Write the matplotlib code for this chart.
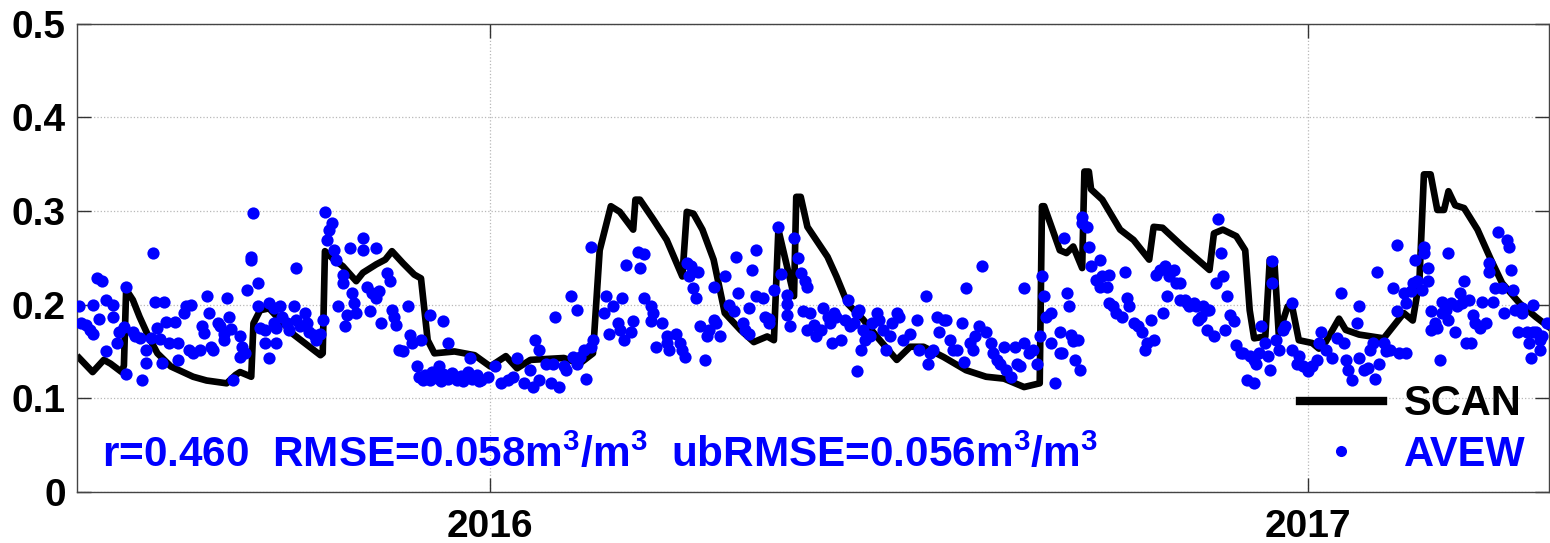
# coding=utf-8
import pandas as pd
import matplotlib
matplotlib.use('Agg')
import matplotlib.pyplot as plt
from matplotlib.lines import Line2D

plt.rcParams['font.family'] = ['Liberation Sans', 'DejaVu Sans']
plt.rcParams['font.weight'] = 'bold'
plt.rcParams['mathtext.fontset'] = 'custom'
plt.rcParams['mathtext.rm'] = 'Liberation Sans:bold'
plt.rcParams['mathtext.bf'] = 'Liberation Sans:bold'
plt.rcParams['mathtext.it'] = 'Liberation Sans:bold'

start = pd.Timestamp('2015-07-01')

# SCAN station soil moisture (days since 2015-07-01, m3/m3)
scan_day = [0, 6, 11, 14, 19, 20, 21, 24, 27, 31, 35, 41, 51, 57, 66, 70, 72, 77, 78, 81,
            85, 96, 108, 109, 110, 114, 118, 124, 127, 133, 137, 140, 145, 150, 153, 156, 159,
            168, 177, 184, 191, 196, 202, 217, 224, 230, 233, 238, 242, 248, 249, 251, 257,
            263, 270, 272, 275, 279, 284, 289, 296, 302, 308, 311, 313, 320, 321, 323, 326,
            335, 339, 344, 351, 357, 366, 372, 378, 387, 397, 406, 414, 423, 430, 431, 432,
            439, 442, 445, 449, 450, 452, 453, 458, 466, 472, 479, 481, 485, 494, 506, 508,
            512, 518, 522, 524, 526, 531, 533, 535, 537, 541, 543, 546, 552, 555, 558, 564,
            567, 573, 584, 588, 593, 597, 600, 602, 605, 608, 611, 613, 616, 620, 626, 632,
            637, 645, 652, 658]
scan_val = [0.143, 0.128, 0.141, 0.137, 0.128, 0.135, 0.216, 0.205, 0.187, 0.166, 0.148,
            0.134, 0.123, 0.119, 0.116, 0.125, 0.128, 0.123, 0.180, 0.194, 0.196, 0.168,
            0.146, 0.148, 0.257, 0.248, 0.241, 0.225, 0.234, 0.243, 0.248, 0.257, 0.244,
            0.232, 0.228, 0.162, 0.148, 0.150, 0.146, 0.134, 0.145, 0.132, 0.141, 0.143,
            0.137, 0.148, 0.258, 0.305, 0.299, 0.280, 0.312, 0.312, 0.291, 0.269, 0.230,
            0.299, 0.297, 0.280, 0.248, 0.191, 0.173, 0.160, 0.166, 0.162, 0.280, 0.209,
            0.315, 0.315, 0.283, 0.251, 0.230, 0.201, 0.184, 0.166, 0.141, 0.155, 0.155,
            0.144, 0.130, 0.123, 0.121, 0.112, 0.116, 0.305, 0.305, 0.258, 0.255, 0.262,
            0.239, 0.342, 0.342, 0.323, 0.312, 0.280, 0.269, 0.248, 0.283, 0.282, 0.262,
            0.237, 0.276, 0.280, 0.273, 0.258, 0.194, 0.164, 0.166, 0.248, 0.248, 0.169,
            0.198, 0.198, 0.162, 0.159, 0.153, 0.160, 0.185, 0.173, 0.168, 0.164, 0.176,
            0.191, 0.183, 0.226, 0.339, 0.339, 0.301, 0.301, 0.321, 0.306, 0.303, 0.280,
            0.248, 0.223, 0.201, 0.187, 0.176]

# AVEW retrievals (days since 2015-07-01, m3/m3)
avew_day = [0, 1, 3, 5, 6, 6, 8, 10, 9, 12, 15, 15, 12, 17, 18, 20, 21, 21, 24, 25, 27, 28,
            30, 30, 32, 33, 34, 38, 35, 36, 37, 39, 43, 40, 44, 44, 47, 48, 50, 49, 51, 54,
            57, 55, 56, 58, 59, 60, 62, 63, 65, 65, 66, 67, 68, 69, 72, 73, 72, 74, 75, 77,
            77, 78, 80, 80, 81, 83, 83, 85, 85, 87, 90, 87, 88, 88, 91, 93, 94, 96, 97,
            97, 99, 101, 102, 103, 105, 106, 108, 109,
            110, 113, 112, 111, 114, 115, 118, 118, 116, 119, 120, 121, 122, 123, 124, 127,
            127, 129, 131, 133, 134, 133, 130, 135, 138, 139, 140, 141, 142, 143, 145, 147,
            148, 149, 153, 151, 152, 154, 157, 163, 161, 165, 175,
            155, 157, 158, 160, 162, 163, 165, 167, 169, 171, 172, 174, 176, 178, 179,
            180, 183, 186, 189, 192, 194, 196, 199, 202, 203, 206, 209, 211, 212, 215, 217,
            218, 221, 223, 224, 226, 227, 229, 230, 204, 206, 213, 220, 223, 229,
            236, 235, 237, 239, 241, 242, 243, 245, 250, 253, 251, 244, 247, 248, 253, 256,
            257, 256, 258, 261, 263, 264, 267, 269, 270, 271, 263,
            272, 274, 277, 273, 275, 276, 278, 281, 282, 284, 285, 287, 280,
            284, 289, 291, 293, 294, 295, 297, 298, 300, 300, 301, 303, 303, 306, 307, 309,
            309, 311, 313, 314, 317, 317, 318, 317, 320, 322, 323, 325, 326,
            324, 327, 326, 329, 330, 332, 333, 335, 336, 338, 339, 341, 343, 344, 345, 347,
            348, 349, 350, 351, 352, 354, 355, 357, 358, 360, 361, 363, 364, 366, 337, 348,
            367, 369, 372, 375, 376, 379, 380, 381, 382, 384, 385, 387, 388, 390, 391, 393,
            395, 396, 397, 399, 400, 401, 403, 404, 406, 408, 409, 411, 412, 414, 415, 417,
            419, 420, 421, 423, 423, 425, 427, 429, 430, 431, 432, 433, 435, 435, 437, 439,
            439, 441, 440, 442, 443, 444, 445, 446, 447, 448, 449, 449, 451, 452, 453, 455,
            457, 457, 458, 460, 461, 461, 463, 464, 467, 468, 469, 470, 472, 474, 476, 477,
            478, 480, 481, 482, 484, 485, 486, 487, 488, 490, 491, 493, 493, 495, 496, 497,
            499, 500, 501, 502, 503, 505, 505, 506, 508, 509, 510, 511, 512, 513, 514, 515,
            517, 518, 520, 521, 523, 526, 524, 526, 527, 528, 529, 531, 532, 533, 534, 534,
            536, 537, 539, 540, 543, 543, 545, 546, 548, 550, 552, 554, 555, 556, 558, 561,
            563, 565, 566, 567, 568,
            570, 572, 573, 573, 575, 577, 578, 579, 580, 581, 582, 584, 585, 587, 588, 590,
            590, 591, 593, 594, 594, 596, 597, 598, 599, 601, 602, 602, 604, 604, 605, 605,
            607, 608, 609, 610, 610, 612, 613, 613, 614, 616, 617, 618, 619, 620, 622, 621,
            623, 624, 625, 627, 628, 630, 631, 631, 633, 634, 635, 637, 638, 639, 640, 641,
            642, 643, 644, 646, 646, 648, 649, 650, 651, 651, 652, 654, 654, 655, 657]
avew_val = [0.198, 0.180, 0.178, 0.173, 0.169, 0.200, 0.228, 0.225, 0.185, 0.205, 0.200,
            0.187, 0.150, 0.159, 0.171, 0.176, 0.219, 0.126, 0.171, 0.167, 0.164, 0.119,
            0.152, 0.138, 0.164, 0.255, 0.203, 0.203, 0.175, 0.163, 0.138, 0.181, 0.181,
            0.159, 0.159, 0.141, 0.191, 0.198, 0.200, 0.152, 0.148, 0.152, 0.209, 0.177,
            0.170, 0.191, 0.155, 0.152, 0.180, 0.177, 0.169, 0.162, 0.207, 0.187, 0.174,
            0.119, 0.166, 0.155, 0.144, 0.148, 0.216, 0.251, 0.248, 0.298, 0.223, 0.198,
            0.175, 0.173, 0.159, 0.143, 0.202, 0.196, 0.198, 0.180, 0.175, 0.159, 0.187,
            0.180, 0.173, 0.198, 0.239,
            0.184, 0.177, 0.191, 0.180, 0.171, 0.168, 0.162, 0.169, 0.184,
            0.299, 0.287, 0.280, 0.269, 0.258, 0.248, 0.232, 0.223, 0.198, 0.177, 0.189,
            0.260, 0.212, 0.202, 0.191, 0.271, 0.258, 0.219, 0.212, 0.207, 0.214, 0.260,
            0.193, 0.180, 0.234, 0.225, 0.194, 0.187, 0.178, 0.152, 0.150, 0.198, 0.168,
            0.159, 0.162, 0.134, 0.123, 0.119, 0.189, 0.182, 0.134, 0.159, 0.143,
            0.125, 0.120, 0.128, 0.122, 0.118, 0.126, 0.121, 0.127, 0.119, 0.124, 0.118,
            0.128, 0.121, 0.125, 0.118,
            0.119, 0.123, 0.134, 0.116, 0.119, 0.123, 0.143, 0.116, 0.130, 0.112, 0.119,
            0.137, 0.116, 0.137, 0.112, 0.134, 0.130, 0.144, 0.137, 0.144, 0.152, 0.121,
            0.155, 0.162, 0.162, 0.152, 0.187, 0.209, 0.194, 0.262,
            0.209, 0.191, 0.169, 0.198, 0.180, 0.173, 0.207, 0.242, 0.256, 0.254, 0.239,
            0.162, 0.171, 0.182, 0.207, 0.198, 0.191, 0.182, 0.155, 0.180, 0.166, 0.152,
            0.169, 0.159, 0.152, 0.144, 0.159,
            0.244, 0.241, 0.235, 0.230, 0.218, 0.207, 0.177, 0.166, 0.173, 0.184, 0.180,
            0.166, 0.141,
            0.219, 0.230, 0.200, 0.193, 0.251, 0.212, 0.180, 0.173, 0.169, 0.196, 0.237,
            0.258, 0.209, 0.207, 0.187, 0.180, 0.185, 0.216, 0.283, 0.233, 0.210, 0.189,
            0.177, 0.201, 0.271, 0.250, 0.234, 0.225, 0.219,
            0.193, 0.191, 0.173, 0.178, 0.166, 0.173, 0.196, 0.187, 0.180, 0.191, 0.187,
            0.162, 0.184, 0.205, 0.177, 0.180, 0.191, 0.194, 0.152, 0.173, 0.162, 0.166,
            0.180, 0.191, 0.184, 0.173, 0.152, 0.166, 0.180, 0.191, 0.159, 0.129,
            0.187, 0.162, 0.169, 0.184, 0.152, 0.209, 0.137, 0.148, 0.152, 0.187, 0.171,
            0.184, 0.184, 0.162, 0.152, 0.152, 0.180, 0.139, 0.218, 0.159, 0.152, 0.166,
            0.177, 0.241, 0.171, 0.159, 0.148, 0.141, 0.137, 0.155, 0.130, 0.123, 0.155,
            0.137, 0.134, 0.218, 0.159, 0.148, 0.152, 0.137, 0.166, 0.230, 0.209, 0.187,
            0.191, 0.159, 0.116, 0.171, 0.148, 0.271, 0.148, 0.212, 0.198, 0.168, 0.161,
            0.141, 0.162, 0.130, 0.294, 0.287, 0.283, 0.262, 0.241, 0.226, 0.248, 0.219,
            0.230, 0.219, 0.232, 0.202, 0.198, 0.191, 0.187, 0.235, 0.207, 0.198, 0.180,
            0.177, 0.171, 0.152, 0.159, 0.184, 0.162, 0.232, 0.237, 0.191, 0.241, 0.209,
            0.230, 0.237, 0.223, 0.223, 0.205, 0.205, 0.202, 0.198, 0.202, 0.198, 0.184,
            0.187, 0.198, 0.194, 0.173, 0.194, 0.166, 0.223, 0.291, 0.255, 0.230, 0.173,
            0.209, 0.189, 0.182, 0.157, 0.148, 0.148, 0.120, 0.116, 0.145, 0.141, 0.137,
            0.148, 0.177, 0.159, 0.145, 0.130, 0.246, 0.223, 0.162, 0.152, 0.173, 0.177,
            0.202, 0.152, 0.137, 0.145, 0.134, 0.129, 0.134, 0.141, 0.159, 0.171, 0.152,
            0.143, 0.164, 0.212, 0.159, 0.141, 0.130,
            0.120, 0.180, 0.198, 0.143, 0.130, 0.132, 0.152, 0.159, 0.121, 0.235, 0.137,
            0.159, 0.150, 0.152, 0.218, 0.193, 0.264, 0.148, 0.212, 0.148, 0.202, 0.214,
            0.223, 0.248, 0.225, 0.216, 0.262, 0.255, 0.239, 0.225, 0.193, 0.173, 0.180,
            0.175, 0.141, 0.203, 0.191, 0.194, 0.255, 0.184, 0.202, 0.171, 0.198, 0.212,
            0.202, 0.225, 0.205, 0.159, 0.159, 0.189, 0.180, 0.175, 0.203, 0.180, 0.235,
            0.244, 0.203, 0.218, 0.278, 0.218, 0.191, 0.269, 0.262, 0.237, 0.216, 0.194,
            0.171, 0.196, 0.191, 0.171, 0.159, 0.143, 0.171, 0.200, 0.171, 0.152, 0.162,
            0.166, 0.180]

year_ticks = ['2016-01-01', '2017-01-01']
year_labels = ['2016', '2017']
y_ticks = [0, 0.1, 0.2, 0.3, 0.4, 0.5]
stats_text = r'r=0.460  RMSE=0.058m$^{3}$/m$^{3}$  ubRMSE=0.056m$^{3}$/m$^{3}$'

scan_dates = start + pd.to_timedelta(scan_day, unit='D')
avew_dates = start + pd.to_timedelta(avew_day, unit='D')

fig = plt.figure(figsize=(15.5, 5.43), dpi=100)
ax = fig.add_axes([77 / 1550, 51 / 543, 1472 / 1550, 468.5 / 543])

ax.plot(scan_dates, scan_val, color='black', linewidth=4.8, zorder=2)
ax.plot(avew_dates, avew_val, 'o', color='blue', markersize=8.8, markeredgewidth=0, zorder=3)

ax.set_xlim(pd.Timestamp('2015-06-30'), pd.Timestamp('2017-04-19'))
ax.set_ylim(0, 0.5)
ax.set_xticks(pd.to_datetime(year_ticks))
ax.set_xticklabels(year_labels)
ax.set_yticks(y_ticks)
ax.set_yticklabels(['%g' % t for t in y_ticks])

ax.grid(True, linestyle=':', color='#b8b8b8', linewidth=0.9)
ax.tick_params(direction='in', length=10, width=1, top=True, right=True,
               labelsize=28, color='#333333')
ax.tick_params(axis='x', pad=12)
ax.tick_params(axis='y', pad=8)
for lab in ax.get_xticklabels() + ax.get_yticklabels():
    lab.set_fontweight('bold')
for s in ax.spines.values():
    s.set_color('#444444')
    s.set_linewidth(1.0)

ax.text(0.0168, 0.054, stats_text, transform=ax.transAxes, color='blue',
        fontsize=30.4, fontweight='bold', va='baseline', ha='left')

handles = [Line2D([], [], color='black', linewidth=6),
           Line2D([], [], marker='o', linestyle='none', color='blue', markersize=8,
                  markeredgewidth=0)]
leg = ax.legend(handles, ['SCAN', 'AVEW'], loc='lower right', bbox_to_anchor=(1.0095, -0.0435),
                frameon=False, handlelength=2.0, handletextpad=0.5,
                labelspacing=0.25, prop={'weight': 'bold', 'size': 30})
leg.get_texts()[0].set_color('black')
leg.get_texts()[1].set_color('blue')

fig.savefig('out.png', dpi=100)
